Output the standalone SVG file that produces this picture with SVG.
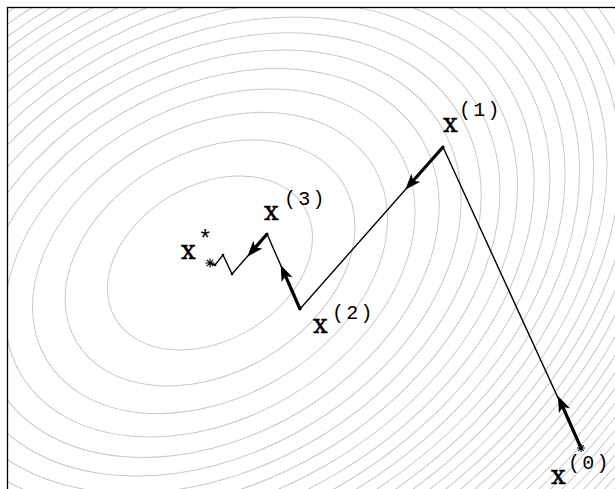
<svg xmlns="http://www.w3.org/2000/svg" width="615" height="489" viewBox="0 0 615 489">
<style>
.c{fill:none;stroke:#c8c8c8;stroke-width:1}
.p{fill:none;stroke:#000;stroke-width:1.4;stroke-linejoin:miter}
.a{fill:none;stroke:#000;stroke-width:3.2;stroke-linecap:butt}
.x{font-family:"DejaVu Serif",serif;font-size:26px;fill:#000;stroke:#000;stroke-width:0.5}
.s{font-family:"Liberation Mono",monospace;font-size:20px;letter-spacing:2.2px;fill:#000}
.m{stroke:#000;stroke-width:1.1;fill:none}
</style>
<defs>
<clipPath id="clip"><rect x="7.5" y="7.5" width="620" height="500"/></clipPath>
<marker id="ah" markerUnits="userSpaceOnUse" orient="auto" viewBox="-7 -7 18 14" refX="0" refY="0" markerWidth="18" markerHeight="14">
<path d="M10,0 L-6,-6 L-2,0 L-6,6 Z" fill="#000"/>
</marker>
</defs>
<rect x="0" y="0" width="615" height="489" fill="#fff"/>
<g id="contours" clip-path="url(#clip)">
<g transform="translate(210,263) rotate(-30.3)">
<ellipse class="c" rx="109.7" ry="77.7"/>
<ellipse class="c" rx="155.1" ry="109.9"/>
<ellipse class="c" rx="190.0" ry="134.6"/>
<ellipse class="c" rx="219.4" ry="155.4"/>
<ellipse class="c" rx="245.3" ry="173.7"/>
<ellipse class="c" rx="268.7" ry="190.3"/>
<ellipse class="c" rx="290.2" ry="205.6"/>
<ellipse class="c" rx="310.3" ry="219.8"/>
<ellipse class="c" rx="329.1" ry="233.1"/>
<ellipse class="c" rx="346.9" ry="245.7"/>
<ellipse class="c" rx="363.8" ry="257.7"/>
<ellipse class="c" rx="380.0" ry="269.2"/>
<ellipse class="c" rx="395.5" ry="280.2"/>
<ellipse class="c" rx="410.5" ry="290.7"/>
<ellipse class="c" rx="424.9" ry="300.9"/>
<ellipse class="c" rx="438.8" ry="310.8"/>
<ellipse class="c" rx="452.3" ry="320.4"/>
<ellipse class="c" rx="465.4" ry="329.6"/>
<ellipse class="c" rx="478.2" ry="338.7"/>
<ellipse class="c" rx="490.6" ry="347.5"/>
<ellipse class="c" rx="502.7" ry="356.1"/>
<ellipse class="c" rx="514.5" ry="364.4"/>
<ellipse class="c" rx="526.1" ry="372.6"/>
<ellipse class="c" rx="537.4" ry="380.6"/>
<ellipse class="c" rx="548.5" ry="388.5"/>
<ellipse class="c" rx="559.4" ry="396.2"/>
<ellipse class="c" rx="570.0" ry="403.7"/>
<ellipse class="c" rx="580.5" ry="411.1"/>
<ellipse class="c" rx="590.8" ry="418.4"/>
<ellipse class="c" rx="600.9" ry="425.6"/>
<ellipse class="c" rx="610.8" ry="432.6"/>
</g>
</g>
<rect id="frame" x="7.5" y="7.5" width="620" height="500" fill="none" stroke="#000" stroke-width="1.3"/>
<g id="connectors">
<polyline class="p" points="581,448 443,147 300,309 267,234 232,274 223,255 215,265 210,263"/>
<line class="a" x1="581" y1="448" x2="562.0" y2="405.1" marker-end="url(#ah)"/>
<line class="a" x1="443" y1="147" x2="411.9" y2="182.3" marker-end="url(#ah)"/>
<line class="a" x1="300" y1="309" x2="284.7" y2="274.2" marker-end="url(#ah)"/>
<line class="a" x1="267" y1="234" x2="253.9" y2="249.1" marker-end="url(#ah)"/>
</g>
<g id="x0">
<path class="m" d="M577,448 h8 M581,444 v8 M578.2,445.2 l5.6,5.6 M583.8,445.2 l-5.6,5.6"/>
<text class="x" x="551" y="484">x</text>
<text class="s" x="568" y="469">(0)</text>
</g>
<g id="x1">
<circle cx="443" cy="147" r="1.6"/>
<text class="x" x="443" y="132">x</text>
<text class="s" x="459" y="116">(1)</text>
</g>
<g id="x2">
<circle cx="300" cy="309" r="1.6"/>
<text class="x" x="313" y="333">x</text>
<text class="s" x="332" y="319">(2)</text>
</g>
<g id="x3">
<circle cx="267" cy="234" r="1.6"/>
<circle cx="232" cy="274" r="1.3"/>
<circle cx="223" cy="255" r="1.3"/>
<circle cx="215" cy="265" r="1.3"/>
<text class="x" x="264" y="219.5">x</text>
<text class="s" x="284" y="205">(3)</text>
</g>
<g id="xstar">
<path class="m" stroke-width="1.6" d="M205.5,263 h9 M210,258.5 v9 M206.8,259.8 l6.4,6.4 M213.2,259.8 l-6.4,6.4"/>
<text class="x" x="181" y="259">x</text>
<text class="s" x="198" y="247" style="font-size:24px">*</text>
</g>
</svg>
